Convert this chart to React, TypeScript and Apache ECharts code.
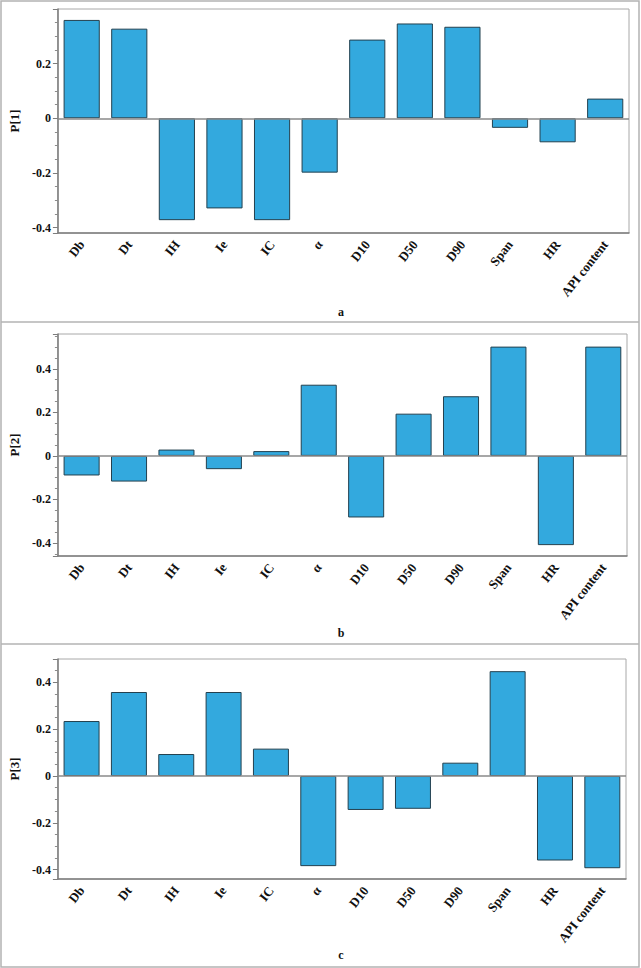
import { useEffect, useRef } from "react";
import * as echarts from "echarts";

const categories = ["Db", "Dt", "IH", "Ie", "IC", "α", "D10", "D50", "D90", "Span", "HR", "API content"];
const p1 = [0.36, 0.328, -0.373, -0.33, -0.373, -0.199, 0.288, 0.347, 0.335, -0.035, -0.088, 0.072];
const p2 = [-0.09, -0.118, 0.029, -0.061, 0.022, 0.327, -0.283, 0.194, 0.274, 0.502, -0.41, 0.502];
const p3 = [0.235, 0.359, 0.094, 0.359, 0.117, -0.385, -0.145, -0.14, 0.057, 0.448, -0.361, -0.394];
const seriesValues = [p1, p2, p3];
const axisNames = ["P[1]", "P[2]", "P[3]"];
const panelLetters = ["a", "b", "c"];
const yMins = [-0.42, -0.46, -0.44];
const yMaxs = [0.4, 0.56, 0.5];

const FONT = '"Liberation Serif", "Times New Roman", serif';

export default function App() {
  const ref = useRef<HTMLDivElement>(null);
  useEffect(() => {
    if (!ref.current) return;
    const chart = echarts.init(ref.current, undefined, { renderer: "svg" });
    const grids = [
      { left: 53, top: 9, width: 576, height: 224 },
      { left: 55, top: 334, width: 572, height: 222 },
      { left: 57, top: 659, width: 569, height: 220 },
    ];
    const captionY = [312, 633, 955];
    const axisGray = "#7d7d7d";
    const option: any = {
      animation: false,
      backgroundColor: "#ffffff",
      grid: grids.map((g) => ({
        ...g,
        show: true,
        borderColor: "#a8a8a8",
        borderWidth: 1,
        backgroundColor: "transparent",
        containLabel: false,
      })),
      xAxis: grids.map((_, i) => ({
        gridIndex: i,
        type: "category",
        data: categories,
        axisLine: { onZero: false, lineStyle: { color: axisGray, width: 1.5 } },
        axisTick: { alignWithLabel: true, length: 4, lineStyle: { color: axisGray } },
        axisLabel: {
          interval: 0,
          rotate: 52,
          margin: 9,
          fontFamily: FONT,
          fontWeight: "bold",
          fontSize: 13,
          color: "#111",
        },
        splitLine: { show: false },
      })),
      yAxis: grids.map((_, i) => ({
        gridIndex: i,
        type: "value",
        min: yMins[i],
        max: yMaxs[i],
        splitNumber: 5,
        splitLine: { show: false },
        axisLine: { show: true, lineStyle: { color: axisGray, width: 1.5 } },
        axisTick: { show: true, length: 5, lineStyle: { color: axisGray } },
        minorTick: { show: true, splitNumber: 4, length: 3, lineStyle: { color: "#8c8c8c" } },
        axisLabel: {
          showMinLabel: false,
          showMaxLabel: false,
          margin: 7,
          fontFamily: FONT,
          fontWeight: "bold",
          fontSize: 12,
          color: "#111",
        },
        name: axisNames[i],
        nameLocation: "middle",
        nameGap: 33,
        nameTextStyle: { fontFamily: FONT, fontWeight: "bold", fontSize: 13, color: "#111" },
      })),
      series: seriesValues.map((vals, i) => ({
        type: "bar",
        xAxisIndex: i,
        yAxisIndex: i,
        data: vals,
        barCategoryGap: "24%",
        itemStyle: { color: "#33a9de", borderColor: "#23404f", borderWidth: 1 },
        markLine: {
          silent: true,
          symbol: ["none", "none"],
          label: { show: false },
          lineStyle: { color: "#8a8a8a", type: "solid", width: 1.5 },
          data: [{ yAxis: 0 }],
        },
      })),
      graphic: [
        {
          type: "rect",
          shape: { x: 1, y: 1, width: 638, height: 966 },
          style: { fill: "none", stroke: "#b3b3b3", lineWidth: 1.5 },
          silent: true,
        },
        {
          type: "line",
          shape: { x1: 1, y1: 322, x2: 639, y2: 322 },
          style: { stroke: "#b3b3b3", lineWidth: 1.5 },
          silent: true,
        },
        {
          type: "line",
          shape: { x1: 1, y1: 644, x2: 639, y2: 644 },
          style: { stroke: "#b3b3b3", lineWidth: 1.5 },
          silent: true,
        },
        ...panelLetters.map((t, i) => ({
          type: "text",
          x: 341,
          y: captionY[i],
          silent: true,
          style: {
            text: t,
            font: `bold 12px ${FONT}`,
            fill: "#111",
            align: "center",
            verticalAlign: "middle",
            textAlign: "center",
            textVerticalAlign: "middle",
          },
        })),
      ],
    };
    chart.setOption(option);
    return () => chart.dispose();
  }, []);
  return (
    <div
      ref={ref}
      style={{ position: "absolute", left: 0, top: 0, width: 641, height: 968, background: "#fff" }}
    />
  );
}
